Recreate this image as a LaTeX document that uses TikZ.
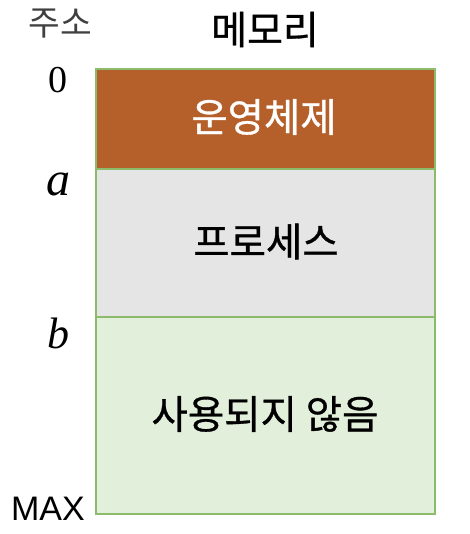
\documentclass[tikz,border=0pt]{standalone}
\usepackage{fontspec}
\setmainfont{Liberation Serif}
\newfontfamily\kr[FakeBold=0.8]{Noto Sans CJK KR}
\newfontfamily\krthin{Noto Sans CJK KR}
\newfontfamily\arialf{Liberation Sans}
\definecolor{osbrown}{HTML}{B5602A}
\definecolor{procgray}{HTML}{E5E5E5}
\definecolor{freegreen}{HTML}{E2EFDA}
\definecolor{edgegreen}{HTML}{8CBB6B}
\definecolor{labgray}{HTML}{404040}
\tikzset{
  memrow/.style={draw=edgegreen, line width=2pt, minimum width=339pt, inner sep=0pt, anchor=north},
  rowtext/.style={font=\kr\fontsize{39.5}{44}\selectfont},
  addr/.style={inner sep=0pt, anchor=base},
}
\begin{document}
\begin{tikzpicture}[x=1pt,y=-1pt]
\useasboundingbox (0,0) rectangle (469,534);
\node[memrow, fill=osbrown, minimum height=100pt] (os) at (265.5,68) {};
\node[memrow, fill=procgray, minimum height=148pt] (proc) at (265.5,168) {};
\node[memrow, fill=freegreen, minimum height=197pt] (free) at (265.5,316) {};
\node[rowtext, text=white, inner sep=0pt] (ost) at (264,117) {운영체제};
\node[rowtext, inner sep=0pt] (proct) at (266,241.5) {프로세스};
\node[rowtext, inner sep=0pt] (freet) at (265,414) {사용되지 않음};
\node[font=\krthin\fontsize{34.5}{38}\selectfont, text=labgray, inner sep=0pt] (addrh) at (60,24) {주소};
\node[font=\kr\fontsize{39}{44}\selectfont, inner sep=0pt] (memh) at (265,29.5) {메모리};
\node[addr, font=\fontsize{38}{42}\selectfont] (z) at (58,93) {0};
\node[addr, font=\itshape\fontsize{48}{52}\selectfont] (a) at (58,196) {a};
\node[addr, font=\itshape\fontsize{44}{48}\selectfont] (b) at (58,348) {b};
\node[addr, font=\arialf\fontsize{34}{38}\selectfont] (max) at (48,520) {MAX};
\end{tikzpicture}
\end{document}
